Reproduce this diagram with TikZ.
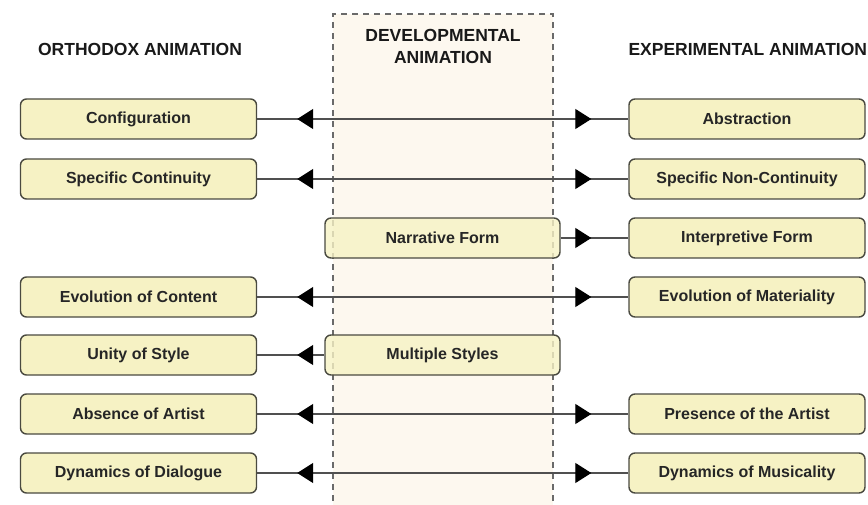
\documentclass[tikz,border=0pt]{standalone}
\usepackage{fontspec}
\setmainfont{Liberation Sans}
\usetikzlibrary{arrows.meta,decorations.markings}
\definecolor{boxfill}{HTML}{F6F2C4}
\definecolor{boxline}{HTML}{4A4A40}
\definecolor{colfill}{HTML}{FDF8EF}
\definecolor{dashcol}{HTML}{6A6A6A}
\definecolor{linecol}{HTML}{505050}
\tikzset{
  item/.style={draw=boxline, line width=1.4pt, fill=boxfill, rounded corners=6pt,
    minimum height=40pt, inner sep=0pt, text=black!85,
    font=\fontsize{16}{19}\selectfont\bfseries},
  sidebox/.style={item, minimum width=236pt},
  midbox/.style={item, minimum width=235pt, minimum height=40pt, fill opacity=0.8, text opacity=1},
  head/.style={font=\fontsize{17.5}{22}\selectfont\bfseries, align=center, text=black!90},
  conn/.style={draw=linecol, line width=1.3pt},
  tipleft/.style={postaction={decorate, decoration={markings,
    mark=at position 40pt with {\arrowreversed{Triangle[length=16pt,width=20pt,color=black]}}}}},
  tipright/.style={postaction={decorate, decoration={markings,
    mark=at position -37pt with {\arrow{Triangle[length=16pt,width=20pt,color=black]}}}}},
}
\begin{document}
\begin{tikzpicture}[x=1pt,y=-1pt]
  \useasboundingbox (0,0) rectangle (868,505);
  \clip (0,0) rectangle (868,505);
  % middle column
  \fill[colfill] (333,14) rectangle (553,512);
  \draw[dashcol, line width=2pt, dash pattern=on 6pt off 5pt]
    (333,512) -- (333,14) -- (553,14) -- (553,512);
  % headings
  \node[head] (hL) at (140,49) {ORTHODOX ANIMATION};
  \node[head] (hM) at (443,46) {DEVELOPMENTAL\\ANIMATION};
  \node[head, anchor=west] (hR) at (625,49) {EXPERIMENTAL ANIMATION};
  % boxes
  \node[sidebox] (L1) at (138.5,119) {Configuration};
  \node[sidebox] (L2) at (138.5,179) {Specific Continuity};
  \node[sidebox] (L4) at (138.5,297) {Evolution of Content};
  \node[sidebox] (L5) at (138.5,355) {Unity of Style};
  \node[sidebox] (L6) at (138.5,414) {Absence of Artist};
  \node[sidebox] (L7) at (138.5,473) {Dynamics of Dialogue};
  \node[sidebox] (R1) at (747,119) {Abstraction};
  \node[sidebox] (R2) at (747,179) {Specific Non-Continuity};
  \node[sidebox] (R3) at (747,238) {Interpretive Form};
  \node[sidebox] (R4) at (747,297) {Evolution of Materiality};
  \node[sidebox] (R6) at (747,414) {Presence of the Artist};
  \node[sidebox] (R7) at (747,473) {Dynamics of Musicality};
  \node[midbox] (M3) at (442.5,238) {Narrative Form};
  \node[midbox] (M5) at (442.5,355) {Multiple Styles};
  % connectors
  \draw[conn, tipleft, tipright] (L1) -- (R1);
  \draw[conn, tipleft, tipright] (L2) -- (R2);
  \draw[conn, tipright] (M3) -- (R3);
  \draw[conn, tipleft, tipright] (L4) -- (R4);
  \draw[conn, tipleft] (L5) -- (M5);
  \draw[conn, tipleft, tipright] (L6) -- (R6);
  \draw[conn, tipleft, tipright] (L7) -- (R7);
\end{tikzpicture}
\end{document}
